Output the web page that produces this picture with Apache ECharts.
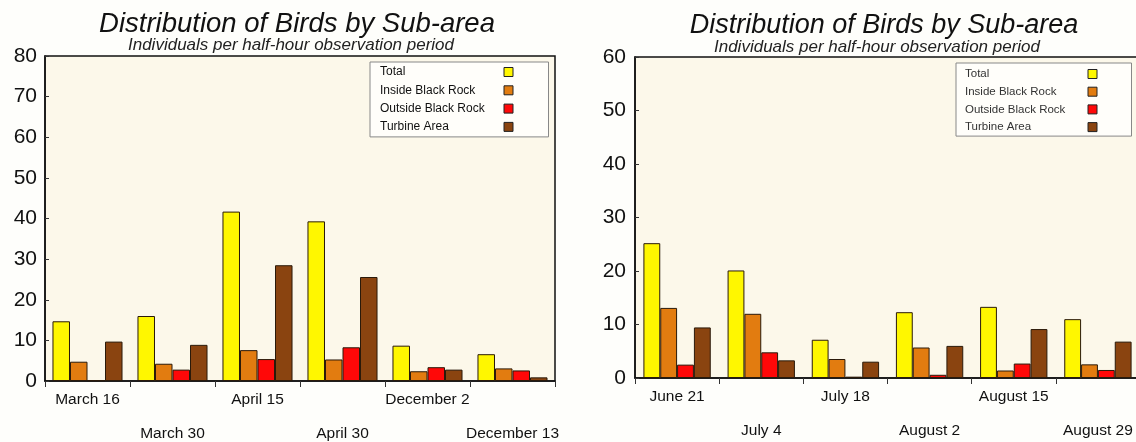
<!DOCTYPE html>
<html>
<head>
<meta charset="utf-8">
<script src="https://cdn.jsdelivr.net/npm/echarts@6/dist/echarts.min.js"></script>
<style>
html,body{margin:0;padding:0;background:#fefefb;}
#chart{width:1136px;height:442px;}
</style>
</head>
<body>
<div id="chart"></div>
<script>
// ---- data ----
const seriesNames = ['Total', 'Inside Black Rock', 'Outside Black Rock', 'Turbine Area'];

const leftCategories = ['March 16', 'March 30', 'April 15', 'April 30', 'December 2', 'December 13'];
const leftTotal    = [14.7, 16.0, 41.7, 39.3, 8.7, 6.6];
const leftInside   = [4.75, 4.25, 7.6, 5.3, 2.4, 3.1];
const leftOutside  = [0.2, 2.8, 5.4, 8.3, 3.4, 2.6];
const leftTurbine  = [9.7, 8.9, 28.5, 25.6, 2.8, 0.9];

const rightCategories = ['June 21', 'July 4', 'July 18', 'August 2', 'August 15', 'August 29'];
const rightTotal   = [25.2, 20.1, 7.15, 12.3, 13.3, 11.0];
const rightInside  = [13.1, 12.0, 3.55, 5.7, 1.4, 2.55];
const rightOutside = [2.5, 4.8, 0.25, 0.6, 2.7, 1.5];
const rightTurbine = [9.45, 3.3, 3.05, 6.0, 9.15, 6.8];

const titleText = 'Distribution of Birds by Sub-area';
const subtitleText = 'Individuals per half-hour observation period';

// ---- styling ----
const FONT = "'Liberation Sans', Arial, Helvetica, sans-serif";
const colors = ['#fff700', '#e27c10', '#ff0808', '#8a4410'];

const leftData = [leftTotal, leftInside, leftOutside, leftTurbine];
const rightData = [rightTotal, rightInside, rightOutside, rightTurbine];

function makeSeries(dataArr, idx, gap) {
  return dataArr.map((d, i) => ({
    name: seriesNames[i],
    type: 'bar',
    xAxisIndex: idx,
    yAxisIndex: idx,
    data: d,
    barGap: '0%',
    barCategoryGap: gap,
    itemStyle: { color: colors[i], borderColor: '#2a1a0a', borderWidth: 1 },
    emphasis: { disabled: true }
  }));
}

function xAxis(idx, cats) {
  return {
    type: 'category',
    gridIndex: idx,
    data: cats,
    axisLine: { lineStyle: { color: '#111', width: 1.5 } },
    axisTick: { show: true, length: 6, lineStyle: { color: '#333' } },
    axisLabel: {
      interval: 0,
      margin: 2,
      fontFamily: FONT,
      fontSize: 15.5,
      color: '#111',
      lineHeight: 34,
      formatter: (v, i) => (i % 2 ? '\n' + v : v)
    },
    splitLine: { show: false }
  };
}

function yAxis(idx, max, margin) {
  return {
    type: 'value',
    gridIndex: idx,
    min: 0,
    max: max,
    interval: 10,
    axisLine: { show: true, lineStyle: { color: '#111', width: 1.5 } },
    axisTick: { show: true, inside: true, length: 4, lineStyle: { color: '#333' } },
    axisLabel: { fontFamily: FONT, fontSize: 21, color: '#111', margin: margin, padding: [5, 0, 0, 0] },
    splitLine: { show: false }
  };
}

function legend(left, top, pad, tokenW, gap, fs, color) {
  return {
    orient: 'vertical',
    left: left,
    top: top,
    align: 'right',
    padding: pad,
    itemGap: gap,
    itemWidth: 9,
    itemHeight: 9,
    icon: 'rect',
    borderColor: '#888',
    borderWidth: 1,
    backgroundColor: '#fffefa',
    selectedMode: false,
    itemStyle: { borderColor: '#222', borderWidth: 1 },
    data: seriesNames,
    formatter: name => '{a|' + name + '}',
    textStyle: {
      fontFamily: FONT,
      fontSize: fs,
      color: color,
      rich: { a: { width: tokenW, align: 'left', fontFamily: FONT, fontSize: fs, color: color, lineHeight: 14 } }
    }
  };
}

const option = {
  backgroundColor: '#fefefb',
  animation: false,
  title: [
    { text: titleText, left: 297, top: 11, textAlign: 'center', padding: 0,
      textStyle: { fontFamily: FONT, fontSize: 27.5, fontStyle: 'italic', fontWeight: 'normal', color: '#111' } },
    { text: subtitleText, left: 291, top: 37, textAlign: 'center', padding: 0,
      textStyle: { fontFamily: FONT, fontSize: 17, fontStyle: 'italic', fontWeight: 'normal', color: '#222' } },
    { text: titleText, left: 884, top: 12, textAlign: 'center', padding: 0,
      textStyle: { fontFamily: FONT, fontSize: 27, fontStyle: 'italic', fontWeight: 'normal', color: '#111' } },
    { text: subtitleText, left: 877, top: 39, textAlign: 'center', padding: 0,
      textStyle: { fontFamily: FONT, fontSize: 17, fontStyle: 'italic', fontWeight: 'normal', color: '#222' } }
  ],
  legend: [
    legend(370, 62, [4, 35, 4, 10], 119, 6.3, 12, '#111'),
    legend(956, 63, [5, 34, 3, 9], 118, 5.7, 11.5, '#333')
  ],
  grid: [
    { left: 45, top: 56, width: 510, height: 325, show: true, backgroundColor: '#fcf8ea',
      borderColor: '#111', borderWidth: 1.5, containLabel: false, outerBoundsMode: 'none' },
    { left: 635, top: 57, width: 505, height: 321, show: true, backgroundColor: '#fcf8ea',
      borderColor: '#111', borderWidth: 1.5, containLabel: false, outerBoundsMode: 'none' }
  ],
  xAxis: [xAxis(0, leftCategories), xAxis(1, rightCategories)],
  yAxis: [yAxis(0, 80, 8), yAxis(1, 60, 9)],
  series: [].concat(makeSeries(leftData, 0, '17.6%'), makeSeries(rightData, 1, '20%'))
};

const chart = echarts.init(document.getElementById('chart'), null, { renderer: 'canvas' });
chart.setOption(option);
</script>
</body>
</html>
